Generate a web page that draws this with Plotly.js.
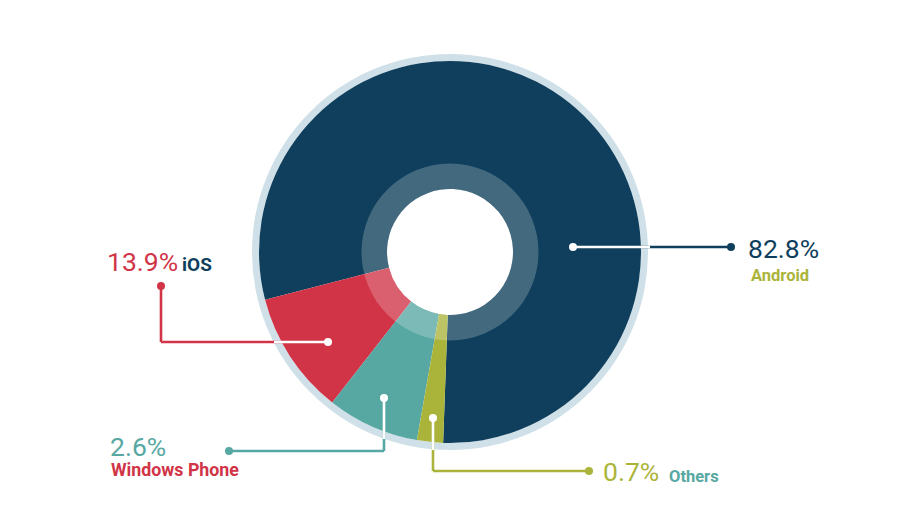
<!DOCTYPE html>
<html>
<head>
<meta charset="utf-8">
<script src="https://cdn.plot.ly/plotly-3.0.1.min.js"></script>
<style>html,body{margin:0;padding:0;background:#fff;}#chart{width:897px;height:525px;}</style>
</head>
<body>
<div id="chart"></div>
<script>
// ---- data ----
const platforms = ['Android', 'iOS', 'Windows Phone', 'Others'];
const printedShare = ['82.8%', '13.9%', '2.6%', '0.7%'];
// slice sizes as drawn in the picture (percent of circle)
const drawnShare = [79.6, 10.4, 7.8, 2.2];

// ---- styles ----
const sliceColors = ['#0f3f5c', '#d13447', '#57a7a2', '#abb43a'];
const nameColors  = ['#abb43a', '#0f3f5c', '#d13447', '#57a7a2'];
const W = 897, H = 525;
const cx = 450, cy = 252, R = 191, borderR = 198, holeR = 63, glassR = 88.5;

function px(x) { return x / W; }
function py(y) { return 1 - y / H; }
function domainFor(r) {
  return { x: [px(cx - r), px(cx + r)], y: [py(cy + r), py(cy - r)] };
}

const traces = [
  { type: 'pie', values: [1], marker: { colors: ['#cfe0e8'], line: { width: 0 } },
    hole: (borderR - 7) / borderR, domain: domainFor(borderR), textinfo: 'none',
    hoverinfo: 'skip', sort: false, showlegend: false },
  { type: 'pie', labels: platforms, values: drawnShare, sort: false,
    direction: 'counterclockwise', rotation: 255.5,
    marker: { colors: sliceColors, line: { width: 0 } },
    hole: holeR / R, domain: domainFor(R), textinfo: 'none', hoverinfo: 'label',
    showlegend: false },
  { type: 'pie', values: [1], marker: { colors: ['rgba(255,255,255,0.22)'], line: { width: 0 } },
    hole: holeR / glassR, domain: domainFor(glassR), textinfo: 'none',
    hoverinfo: 'skip', sort: false, showlegend: false }
];

// leader line geometry (pixels): polyline, end of white part, label placements
const leaders = [
  { pts: [[573, 247], [731, 247]], whiteTo: [650, 247],
    pct: { x: 746, y: 248.5 }, name: { x: 749, y: 275, size: 16.5 } },
  { pts: [[328, 342], [161, 342], [161, 286]], whiteTo: [274, 342],
    pct: { x: 105, y: 261.5 }, name: { x: 180, y: 264.5, size: 19 } },
  { pts: [[384, 398], [384, 451], [229, 451]], whiteTo: [384, 439],
    pct: { x: 108, y: 446 }, name: { x: 109, y: 469.5, size: 17.8 } },
  { pts: [[433, 418], [433, 471], [589, 471]], whiteTo: [433, 450],
    pct: { x: 601, y: 471.5 }, name: { x: 667, y: 476, size: 16.5 } }
];

const shapes = [];
const annotations = [];
function seg(a, b, color) {
  shapes.push({ type: 'line', xref: 'paper', yref: 'paper', layer: 'above',
    x0: px(a[0]), y0: py(a[1]), x1: px(b[0]), y1: py(b[1]),
    line: { color: color, width: 2.6 } });
}
function dot(p, r, color) {
  shapes.push({ type: 'circle', xref: 'paper', yref: 'paper', layer: 'above',
    x0: px(p[0] - r), x1: px(p[0] + r), y0: py(p[1] + r), y1: py(p[1] - r),
    fillcolor: color, line: { width: 0 } });
}

leaders.forEach((L, i) => {
  for (let k = 0; k < L.pts.length - 1; k++) seg(L.pts[k], L.pts[k + 1], sliceColors[i]);
  seg(L.pts[0], L.whiteTo, '#ffffff');
  dot(L.pts[0], 4, '#ffffff');
  dot(L.pts[L.pts.length - 1], 4, sliceColors[i]);
  annotations.push({ xref: 'paper', yref: 'paper', x: px(L.pct.x), y: py(L.pct.y),
    xanchor: 'left', yanchor: 'middle', showarrow: false, text: printedShare[i],
    font: { family: 'Roboto, sans-serif', size: 26.5, color: sliceColors[i] } });
  annotations.push({ xref: 'paper', yref: 'paper', x: px(L.name.x), y: py(L.name.y),
    xanchor: 'left', yanchor: 'middle', showarrow: false, text: '<b>' + platforms[i] + '</b>',
    font: { family: 'Roboto, sans-serif', size: L.name.size, color: nameColors[i] } });
});

const layout = {
  width: W, height: H, margin: { l: 0, r: 0, t: 0, b: 0 },
  paper_bgcolor: '#ffffff', plot_bgcolor: '#ffffff', showlegend: false,
  shapes: shapes, annotations: annotations
};

Plotly.newPlot('chart', traces, layout, { displayModeBar: false, staticPlot: true });
</script>
</body>
</html>
